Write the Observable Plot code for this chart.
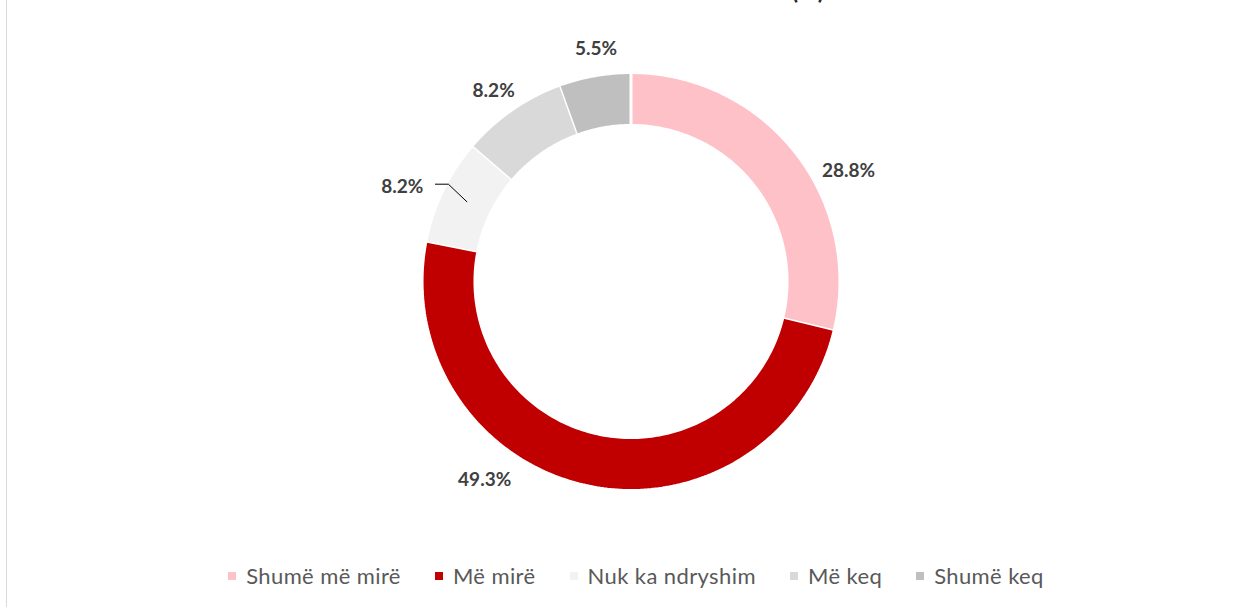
<!DOCTYPE html>
<html>
<head>
<meta charset="utf-8">
<script src="https://cdn.jsdelivr.net/npm/d3@7"></script>
<script src="https://cdn.jsdelivr.net/npm/@observablehq/plot@0.6"></script>
<style>
  body { margin: 0; background: #fff; }
  #wrap { position: relative; width: 1244px; height: 607px; overflow: hidden; background: #fff; font-family: Lato, "Open Sans", "DejaVu Sans", sans-serif; }
  #border { position: absolute; left: 6px; top: 0; width: 1px; height: 607px; background: #d9d9d9; }
  #title { position: absolute; left: 0; top: 0; }
  #chart { position: absolute; left: 0; top: 0; }
  #legend { position: absolute; left: 14px; top: 562px; width: 1244px; display: flex; justify-content: center; align-items: center; color: #595959; font-size: 22px; letter-spacing: 0.4px; }
  .item { display: flex; align-items: center; margin: 0 17px; }
  .sw { width: 8px; height: 8px; margin-right: 10px; }
</style>
</head>
<body>
<div id="wrap">
  <div id="border"></div>
  <svg id="title" width="1244" height="20"><text x="808" y="-1" text-anchor="middle" font-family="Lato, sans-serif" font-weight="bold" font-size="24" fill="#262626">(%)</text></svg>
  <div id="chart"></div>
  <div id="legend"></div>
</div>
<script>
// ---- data ----
const categories = ["Shumë më mirë", "Më mirë", "Nuk ka ndryshim", "Më keq", "Shumë keq"];
const values = [28.8, 49.3, 8.2, 8.2, 5.5];
const valueLabels = ["28.8%", "49.3%", "8.2%", "8.2%", "5.5%"];
const colors = ["#FEC1C7", "#C00000", "#F2F2F2", "#D9D9D9", "#BFBFBF"];

// ---- geometry (styling) ----
const cx = 630.5, cy = 281, R = 207.5;   // pixel centre and outer radius
const rOuter = 1.007, rInner = 0.752;
const total = d3.sum(values);

const polyPoints = [];
const slices = [];
let acc = 0;
values.forEach((v, i) => {
  const a0 = acc / total * 2 * Math.PI;
  acc += v;
  const a1 = acc / total * 2 * Math.PI;
  slices.push({cat: categories[i], a0, a1, mid: (a0 + a1) / 2, label: valueLabels[i]});
  const n = Math.max(8, Math.ceil((a1 - a0) / (2 * Math.PI) * 360));
  for (let k = 0; k <= n; k++) {
    const a = a0 + (a1 - a0) * k / n;
    polyPoints.push({cat: categories[i], x: rOuter * Math.sin(a), y: rOuter * Math.cos(a)});
  }
  for (let k = n; k >= 0; k--) {
    const a = a0 + (a1 - a0) * k / n;
    polyPoints.push({cat: categories[i], x: rInner * Math.sin(a), y: rInner * Math.cos(a)});
  }
});

// label placement: mid-angle outside the ring, with Excel-like nudges (px)
const labelR = 1.15;
const nudges = [[30, 37], [-95, -35], [-14, 10], [-2, 6], [6, 2]];
const labelData = slices.map(s => ({...s, x: labelR * Math.sin(s.mid), y: labelR * Math.cos(s.mid)}));

// leader line for "Nuk ka ndryshim"
const li = 2;
const ls = labelData[li];
const lpx = ls.x + nudges[li][0] / R, lpy = ls.y - nudges[li][1] / R;
const midR = (rOuter + rInner) / 2;
const leader = [
  {x: midR * Math.sin(ls.mid), y: midR * Math.cos(ls.mid)},
  {x: lpx + 46 / R, y: lpy + 3 / R},
  {x: lpx + 33 / R, y: lpy + 3 / R}
];

const labelMarks = labelData.map((d, i) => Plot.text([d], {
  x: "x", y: "y", text: "label",
  dx: nudges[i][0], dy: nudges[i][1],
  fontWeight: "bold", fontSize: 19, fill: "#404040",
  textAnchor: "middle", lineAnchor: "middle",
  fontFamily: "Lato, 'Open Sans', sans-serif"
}));

const plot = Plot.plot({
  width: 1244,
  height: 555,
  margin: 0,
  style: {background: "transparent", overflow: "visible"},
  x: {domain: [-1, 1], range: [cx - R, cx + R], axis: null},
  y: {domain: [-1, 1], range: [cy + R, cy - R], axis: null},
  color: {domain: categories, range: colors},
  marks: [
    Plot.line(polyPoints, {x: "x", y: "y", z: "cat", fill: "cat", stroke: "white", strokeWidth: 3, strokeLinejoin: "miter", curve: "linear"}),
    Plot.line(leader, {x: "x", y: "y", stroke: "#000", strokeWidth: 1}),
    ...labelMarks
  ]
});
document.getElementById("chart").appendChild(plot);

// legend
const legend = document.getElementById("legend");
categories.forEach((c, i) => {
  const it = document.createElement("div");
  it.className = "item";
  const sw = document.createElement("div");
  sw.className = "sw";
  sw.style.background = colors[i];
  const t = document.createElement("span");
  t.textContent = c;
  it.appendChild(sw); it.appendChild(t);
  legend.appendChild(it);
});
</script>
</body>
</html>
